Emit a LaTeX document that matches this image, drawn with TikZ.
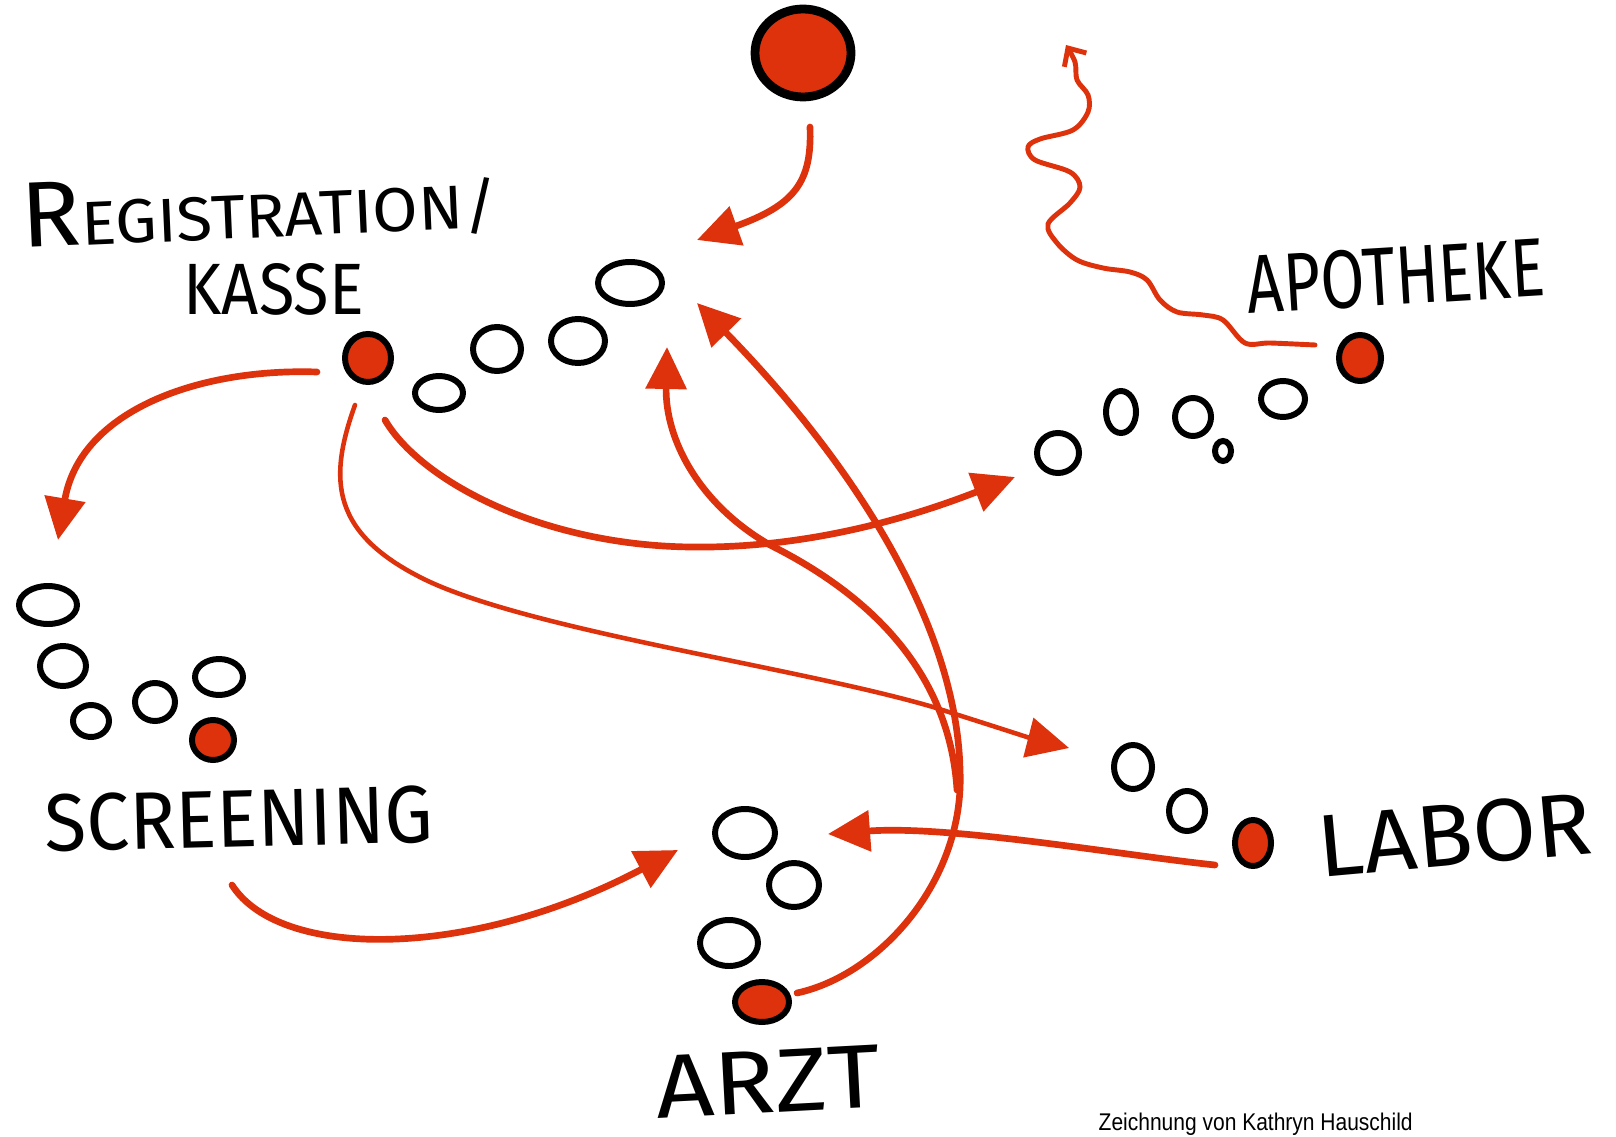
\documentclass[tikz,border=0pt]{standalone}
\usepackage{fontspec}
\newfontfamily\handfont{Fira Sans}
\newfontfamily\notefont{Liberation Sans}
\usetikzlibrary{arrows.meta}
\definecolor{marker}{RGB}{221,50,12}

\begin{document}
\begin{tikzpicture}[
        x=0.1mm, y=-0.1mm,
        line cap=round,
        queue/.style={line width=1.7pt},
        queue head/.style={line width=1.7pt, fill=marker},
        flow/.style={draw=marker, line width=1.9pt, -{Triangle[length=4.2mm, width=4mm]}},
        thin flow/.style={flow, line width=1.3pt},
        wander/.style={draw=marker, line width=1.4pt, -{Straight Barb[length=1.4mm, width=2.6mm]}},
        hand/.style={inner sep=0pt, anchor=base west},
        note/.style={inner sep=0pt, anchor=base west, font=\notefont},
    ]
    \useasboundingbox (0,0) rectangle (1616,1137);
    \fill[white] (0,0) rectangle (1616,1137);

    % Patient arriving at the top.
    \draw[queue head, line width=2.5pt] (803,53) ellipse [x radius=48, y radius=44];

    % Waiting lines; the red one is served first.
    \foreach \cx/\cy/\rx/\ry in {439/393/24/17, 497/349/24/22, 578/341/27/22, 630/283/32/21}
        \draw[queue] (\cx,\cy) ellipse [x radius=\rx, y radius=\ry];
    \draw[queue head] (368,358) ellipse [x radius=23, y radius=24];

    \foreach \cx/\cy/\rx/\ry in {48/605/29/19, 63/666/23/20, 91/721/18/16, 155/702/20/19, 219/677/24/18}
        \draw[queue] (\cx,\cy) ellipse [x radius=\rx, y radius=\ry];
    \draw[queue head] (213,740) ellipse [x radius=21, y radius=20];

    \foreach \cx/\cy/\rx/\ry in {745/833/30/24, 794/885/25/22, 729/943/29/23}
        \draw[queue] (\cx,\cy) ellipse [x radius=\rx, y radius=\ry];
    \draw[queue head] (762,1002) ellipse [x radius=27, y radius=20];

    \foreach \cx/\cy/\rx/\ry in {1133/767/19/22, 1187/811/18/20}
        \draw[queue] (\cx,\cy) ellipse [x radius=\rx, y radius=\ry];
    \draw[queue head] (1253,843) ellipse [x radius=18, y radius=23];

    \foreach \cx/\cy/\rx/\ry in {1058/453/21/20, 1121/412/15/21, 1193/417/18/19, 1223/451/8/10, 1283/399/22/18}
        \draw[queue] (\cx,\cy) ellipse [x radius=\rx, y radius=\ry];
    \draw[queue head] (1360,358) ellipse [x radius=21, y radius=23];

    % Free ends of the connectors.
    \coordinate (entryOut) at (810,127);
    \coordinate (regIn) at (697,240);
    \coordinate (regToScreen) at (317,372);
    \coordinate (screenIn) at (58,540);
    \coordinate (regToApo) at (385,420);
    \coordinate (apoIn) at (1015,477);
    \coordinate (regToLab) at (355,405);
    \coordinate (labIn) at (1069,748);
    \coordinate (screenOut) at (232,885);
    \coordinate (arztIn) at (678,850);
    \coordinate (labOut) at (1215,865);
    \coordinate (arztInLab) at (828,834);
    \coordinate (arztOut) at (797,993);
    \coordinate (arztFork) at (957,790);
    \coordinate (regInArzt) at (697,303);
    \coordinate (regInFork) at (667,347);
    \coordinate (apoOut) at (1315,345);
    \coordinate (exit) at (1066,45);

    % Paths between the stations.
    \draw[flow] (entryOut) .. controls (812,182) and (795,205) .. (regIn);
    \draw[flow] (regToScreen) .. controls (200,368) and (80,410) .. (screenIn);
    \draw[flow] (regToApo) .. controls (420,480) and (540,545) .. (690,547)
        .. controls (820,549) and (930,510) .. (apoIn);
    \draw[thin flow] (regToLab) .. controls (328,480) and (330,535) .. (430,582)
        .. controls (540,632) and (800,668) .. (933,707)
        .. controls (990,725) and (1030,738) .. (labIn);
    \draw[flow] (screenOut) .. controls (280,960) and (470,960) .. (arztIn);
    \draw[flow] (labOut) .. controls (1120,855) and (950,825) .. (arztInLab);
    \draw[flow] (arztOut) .. controls (880,975) and (965,880) .. (960,770)
        .. controls (957,630) and (860,470) .. (regInArzt);
    \draw[flow] (arztFork) .. controls (950,680) and (880,600) .. (770,545)
        .. controls (700,505) and (665,440) .. (regInFork);
    \draw[wander] plot[smooth, tension=0.55] coordinates {(apoOut) (1270,343) (1245,343)
        (1223,320) (1203,315) (1177,312) (1160,300) (1147,280) (1130,272) (1103,268)
        (1077,260) (1057,243) (1048,224) (1070,203) (1080,187) (1070,172) (1035,160)
        (1028,147) (1040,139) (1073,130) (1088,112) (1088,95) (1077,80) (1075,62) (exit)};

    % Station names.
    \node[hand, rotate=2.5] (registration) at (22,248)
        {\resizebox{47.6mm}{6.4mm}{\raisebox{0pt}[\height][0pt]{\handfont{\fontsize{15}{15}\selectfont R}EGISTRATION/}}};
    \node[hand] (kasse) at (183,315) {\resizebox{18mm}{5.1mm}{\handfont KASSE}};
    \node[hand, rotate=3.5] (apotheke) at (1248,314) {\resizebox{29.8mm}{5.8mm}{\handfont APOTHEKE}};
    \node[hand, rotate=1.5] (screening) at (45,852) {\resizebox{38.8mm}{5.7mm}{\handfont SCREENING}};
    \node[hand, rotate=5.2] (labor) at (1320,878) {\resizebox{27.5mm}{6.2mm}{\handfont LABOR}};
    \node[hand, rotate=3] (arzt) at (657,1119) {\resizebox{22.4mm}{6.2mm}{\handfont ARZT}};

    \node[note] (credit) at (1098,1130) {\resizebox{31.4mm}{1.75mm}{Zeichnung von Kathryn Hauschild}};
\end{tikzpicture}
\end{document}
